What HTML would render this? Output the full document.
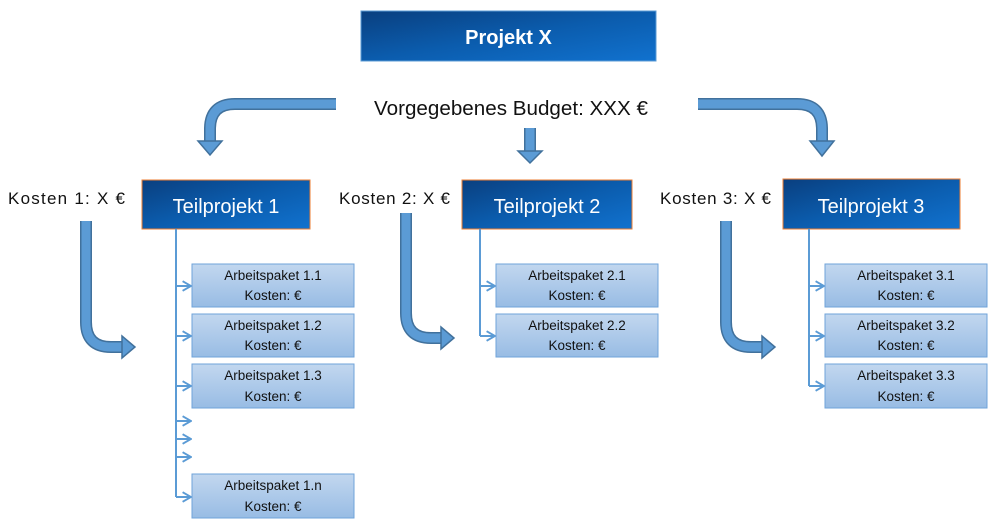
<!DOCTYPE html>
<html><head><meta charset="utf-8"><style>
html,body{margin:0;padding:0;background:#fff;width:1000px;height:528px;overflow:hidden}
svg{display:block;font-family:"Liberation Sans",sans-serif}
</style></head><body>
<svg width="1000" height="528" viewBox="0 0 1000 528" xmlns="http://www.w3.org/2000/svg">
<defs>
<linearGradient id="dk" x1="0" y1="0" x2="1" y2="1">
<stop offset="0" stop-color="#0a3f7f"/><stop offset="0.5" stop-color="#0b5cad"/><stop offset="1" stop-color="#1172cf"/></linearGradient>
<linearGradient id="lt" x1="0" y1="0" x2="0" y2="1">
<stop offset="0" stop-color="#c2d7ef"/><stop offset="1" stop-color="#98bce4"/></linearGradient>
<marker id="ch" viewBox="0 0 10 10" refX="9" refY="5" markerWidth="12" markerHeight="12" markerUnits="userSpaceOnUse" orient="auto">
<path d="M2,1 L9,5 L2,9" fill="none" stroke="#5b9bd5" stroke-width="1.6"/></marker>
</defs>

<rect x="361" y="11" width="295" height="50" fill="url(#dk)" stroke="#5b9bd5" stroke-width="1"/>
<text x="508.5" y="44" font-size="20" font-weight="bold" fill="#fff" text-anchor="middle">Projekt X</text>

<text x="374" y="115" font-size="20" fill="#111" textLength="274" lengthAdjust="spacingAndGlyphs">Vorgegebenes Budget: XXX €</text>

<g fill="none" stroke-linecap="butt">
<path d="M336,104 H235 Q210,104 210,129 V141" stroke="#41719c" stroke-width="12"/>
<path d="M336,104 H235 Q210,104 210,129 V142" stroke="#5b9bd5" stroke-width="9"/>
<path d="M530,128 V151" stroke="#41719c" stroke-width="12"/>
<path d="M530,128 V152" stroke="#5b9bd5" stroke-width="9"/>
<path d="M698,104 H797 Q822,104 822,129 V141" stroke="#41719c" stroke-width="12"/>
<path d="M698,104 H797 Q822,104 822,129 V142" stroke="#5b9bd5" stroke-width="9"/>
<path d="M86,221 V322 Q86,347 111,347 H122" stroke="#41719c" stroke-width="12"/>
<path d="M86,221 V322 Q86,347 111,347 H123" stroke="#5b9bd5" stroke-width="9"/>
<path d="M406,213 V313 Q406,338 431,338 H441" stroke="#41719c" stroke-width="12"/>
<path d="M406,213 V313 Q406,338 431,338 H442" stroke="#5b9bd5" stroke-width="9"/>
<path d="M726,221 V322 Q726,347 751,347 H762" stroke="#41719c" stroke-width="12"/>
<path d="M726,221 V322 Q726,347 751,347 H763" stroke="#5b9bd5" stroke-width="9"/>
</g>
<g fill="#5b9bd5" stroke="#41719c" stroke-width="1.5" stroke-linejoin="miter">
<polygon points="198,141 222,141 210,155"/>
<polygon points="518,151 542,151 530,163"/>
<polygon points="810,141 834,141 822,156"/>
<polygon points="122,336 122,358 135,347"/>
<polygon points="441,327 441,349 454,338"/>
<polygon points="762,336 762,358 775,347"/>
</g>

<g stroke="#ed7d31" stroke-width="1">
<rect x="142" y="180" width="168" height="49" fill="url(#dk)"/>
<rect x="462" y="180" width="170" height="49" fill="url(#dk)"/>
<rect x="783" y="179" width="177" height="50" fill="url(#dk)"/>
</g>
<g font-size="20" fill="#fff" text-anchor="middle">
<text x="226" y="213">Teilprojekt 1</text>
<text x="547" y="213">Teilprojekt 2</text>
<text x="871" y="213">Teilprojekt 3</text>
</g>

<g font-size="17" fill="#111">
<text x="8" y="204" textLength="117" lengthAdjust="spacing">Kosten 1: X €</text>
<text x="339" y="204" textLength="111" lengthAdjust="spacing">Kosten 2: X €</text>
<text x="660" y="204" textLength="111" lengthAdjust="spacing">Kosten 3: X €</text>
</g>

<g stroke="#5b9bd5" stroke-width="2" fill="none">
<path d="M176,229 V497"/>
<path d="M480,229 V336"/>
<path d="M809,229 V386"/>
</g>
<g stroke="#5b9bd5" stroke-width="2" fill="none" marker-end="url(#ch)">
<path d="M176,286 H191"/><path d="M176,336 H191"/><path d="M176,386 H191"/>
<path d="M176,421 H191"/><path d="M176,439 H191"/><path d="M176,457 H191"/><path d="M176,497 H191"/>
<path d="M480,286 H495"/><path d="M480,336 H495"/>
<path d="M809,286 H824"/><path d="M809,336 H824"/><path d="M809,386 H824"/>
</g>

<g fill="url(#lt)" stroke="#6fa3da" stroke-width="1">
<rect x="192" y="264" width="162" height="43"/>
<rect x="192" y="314" width="162" height="43"/>
<rect x="192" y="364" width="162" height="44"/>
<rect x="192" y="474" width="162" height="44"/>
<rect x="496" y="264" width="162" height="43"/>
<rect x="496" y="314" width="162" height="43"/>
<rect x="825" y="264" width="162" height="43"/>
<rect x="825" y="314" width="162" height="43"/>
<rect x="825" y="364" width="162" height="44"/>
</g>
<g font-size="13.5" fill="#111" text-anchor="middle">
<text x="273" y="280">Arbeitspaket 1.1</text><text x="273" y="300">Kosten: €</text>
<text x="273" y="330">Arbeitspaket 1.2</text><text x="273" y="350">Kosten: €</text>
<text x="273" y="380">Arbeitspaket 1.3</text><text x="273" y="401">Kosten: €</text>
<text x="273" y="490">Arbeitspaket 1.n</text><text x="273" y="511">Kosten: €</text>
<text x="577" y="280">Arbeitspaket 2.1</text><text x="577" y="300">Kosten: €</text>
<text x="577" y="330">Arbeitspaket 2.2</text><text x="577" y="350">Kosten: €</text>
<text x="906" y="280">Arbeitspaket 3.1</text><text x="906" y="300">Kosten: €</text>
<text x="906" y="330">Arbeitspaket 3.2</text><text x="906" y="350">Kosten: €</text>
<text x="906" y="380">Arbeitspaket 3.3</text><text x="906" y="401">Kosten: €</text>
</g>
</svg>
</body></html>
